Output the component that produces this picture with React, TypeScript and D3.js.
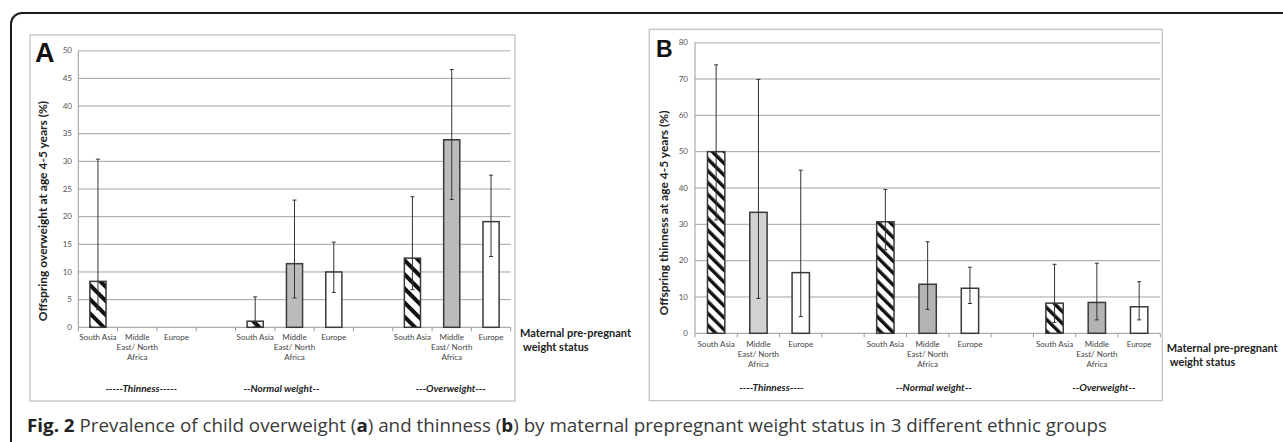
import React from "react";
import { scaleBand, scaleLinear, range } from "d3";

// data
const ethnicGroups = ["South Asia", "Middle East/ North Africa", "Europe"];
const weightGroupsA = ["-----Thinness-----", "--Normal weight--", "---Overweight---"];
const weightGroupsB = ["----Thinness----", "--Normal weight--", "--Overweight--"];

// panel A: offspring overweight (%) - thinness, normal, overweight x SA, MENA, EU
const overweightPct = [8.3, null, null, 1.1, 11.5, 10.0, 12.5, 33.9, 19.1];
const overweightLow = [3.2, null, null, 0.1, 5.3, 6.3, 6.8, 23.1, 12.8];
const overweightHigh = [30.4, null, null, 5.5, 23.0, 15.4, 23.6, 46.6, 27.5];

// panel B: offspring thinness (%)
const thinnessPct = [50.0, 33.3, 16.7, 30.7, 13.5, 12.4, 8.3, 8.5, 7.3];
const thinnessLow = [31.2, 9.6, 4.6, 23.0, 6.6, 8.2, 3.0, 3.7, 3.7];
const thinnessHigh = [73.9, 69.9, 44.9, 39.6, 25.2, 18.2, 19.0, 19.3, 14.2];

const yTicksA = range(0, 51, 5);
const yTicksB = range(0, 81, 10);

const FONT = "Lato, 'Open Sans', sans-serif";

type Panel = {
  id: string;
  letter: string;
  letterSize: number;
  letterX: number;
  letterY: number;
  frame: { x: number; y: number; w: number; h: number };
  x0: number;
  x1: number;
  yTop: number;
  yBottom: number;
  yMax: number;
  ticks: number[];
  tickX: number;
  titleX: number;
  titleY: number;
  title: string;
  values: (number | null)[];
  low: (number | null)[];
  high: (number | null)[];
  groups: string[];
  groupShift: number[];
  xLabelY: number;
  groupLabelY: number;
  maternalX: number;
  maternalY: number;
  grayFill: string[];
  hatchId: string;
};

const panels: Panel[] = [
  {
    id: "A", letter: "A", letterSize: 27, letterX: 35, letterY: 61.5,
    frame: { x: 30, y: 35, w: 485, h: 366 },
    x0: 78.3, x1: 510.7, yTop: 50.7, yBottom: 327.3, yMax: 50, ticks: yTicksA,
    tickX: 72, titleX: 46.5, titleY: 211,
    title: "Offspring overweight at age 4-5 years (%)",
    values: overweightPct, low: overweightLow, high: overweightHigh,
    groups: weightGroupsA, groupShift: [4, -13, -1],
    xLabelY: 340, groupLabelY: 392, maternalX: 520, maternalY: 337,
    grayFill: ["#bbbbbb", "#bbbbbb", "#bbbbbb"], hatchId: "hatchA",
  },
  {
    id: "B", letter: "B", letterSize: 23, letterX: 656, letterY: 56.7,
    frame: { x: 649.3, y: 29.3, w: 513, h: 371.4 },
    x0: 695, x1: 1160.3, yTop: 42.7, yBottom: 333.3, yMax: 80, ticks: yTicksB,
    tickX: 688, titleX: 667.5, titleY: 213,
    title: "Offspring thinness at age 4-5 years (%)",
    values: thinnessPct, low: thinnessLow, high: thinnessHigh,
    groups: weightGroupsB, groupShift: [13, 6, 7],
    xLabelY: 347, groupLabelY: 391, maternalX: 1166.7, maternalY: 352,
    grayFill: ["#d2d2d2", "#b3b3b3", "#b3b3b3"], hatchId: "hatchB",
  },
];

const ChartPanel = ({ p }: { p: Panel }) => {
  const slots = range(11);
  const x = scaleBand<number>().domain(slots).range([p.x0, p.x1]).padding(0);
  const y = scaleLinear().domain([0, p.yMax]).range([p.yBottom, p.yTop]);
  const bw = x.bandwidth() * 0.41;
  const slotOf = (i: number) => Math.floor(i / 3) * 4 + (i % 3);
  const fillOf = (i: number) => {
    const e = i % 3;
    if (e === 0) return `url(#${p.hatchId})`;
    if (e === 1) return p.grayFill[Math.floor(i / 3)];
    return "#ffffff";
  };
  return (
    <g>
      <rect x={p.frame.x} y={p.frame.y} width={p.frame.w} height={p.frame.h}
        fill="#fff" stroke="#c4c4c4" strokeWidth={1.3} />
      {p.ticks.map((t) => (
        <g key={t}>
          {t > 0 && (
            <line x1={p.x0} x2={p.x1} y1={y(t)} y2={y(t)}
              stroke={t === p.yMax ? "#c8c8c8" : "#a3a3a3"} strokeWidth={t === p.yMax ? 1.6 : 1} />
          )}
          <text x={p.tickX} y={y(t)} dy="0.33em" textAnchor="end" fontSize={8}
            fill="#555" fontFamily={FONT}>{t}</text>
        </g>
      ))}
      <line x1={p.x0} x2={p.x0} y1={p.yTop} y2={p.yBottom} stroke="#999" />
      <line x1={p.x0} x2={p.x1} y1={p.yBottom} y2={p.yBottom} stroke="#999" />
      {range(12).map((k) => {
        const xx = k < 11 ? (x(k) as number) : p.x1;
        return <line key={k} x1={xx} x2={xx} y1={p.yBottom} y2={p.yBottom + 4} stroke="#999" />;
      })}
      {p.values.map((v, i) => {
        if (v == null) return null;
        const cx = (x(slotOf(i)) as number) + x.bandwidth() / 2;
        return (
          <rect key={i} x={cx - bw / 2} y={y(v)} width={bw} height={y(0) - y(v)}
            fill={fillOf(i)} stroke="#3a3a3a" strokeWidth={1.5} />
        );
      })}
      {p.values.map((v, i) => {
        const lo = p.low[i];
        const hi = p.high[i];
        if (v == null || lo == null || hi == null) return null;
        const cx = (x(slotOf(i)) as number) + x.bandwidth() / 2;
        return (
          <g key={i} stroke="#333" strokeWidth={1}>
            <line x1={cx} x2={cx} y1={y(hi)} y2={y(lo)} />
            <line x1={cx - 2} x2={cx + 2} y1={y(hi)} y2={y(hi)} />
            <line x1={cx - 2} x2={cx + 2} y1={y(lo)} y2={y(lo)} />
          </g>
        );
      })}
      {p.groups.map((g, gi) =>
        ethnicGroups.map((e, ei) => {
          const cx = (x(gi * 4 + ei) as number) + x.bandwidth() / 2;
          const lines = ei === 1 ? ["Middle", "East/ North", "Africa"] : [e];
          return (
            <text key={`${gi}-${ei}`} x={cx} y={p.xLabelY} textAnchor="middle" fontSize={8}
              fill="#444" fontFamily={FONT}>
              {lines.map((l, li) => (
                <tspan key={li} x={cx} dy={li === 0 ? 0 : 10}>{l}</tspan>
              ))}
            </text>
          );
        })
      )}
      {p.groups.map((g, gi) => {
        const cx = (x(gi * 4 + 1) as number) + x.bandwidth() / 2 + p.groupShift[gi];
        return (
          <text key={g} x={cx} y={p.groupLabelY} textAnchor="middle" fontSize={10}
            fontWeight="bold" fontStyle="italic" fill="#222" fontFamily={FONT}>{g}</text>
        );
      })}
      <text x={p.maternalX} y={p.maternalY} fontSize={11} fontWeight="bold" fill="#222" fontFamily={FONT}>
        <tspan x={p.maternalX}>Maternal pre-pregnant</tspan>
        <tspan x={p.maternalX + 3} dy={14}>weight status</tspan>
      </text>
      <text transform={`translate(${p.titleX},${p.titleY}) rotate(-90)`} textAnchor="middle"
        fontSize={12} fontWeight="bold" fill="#222" fontFamily={FONT}>{p.title}</text>
      <text x={p.letterX} y={p.letterY} fontSize={p.letterSize} fontWeight="bold"
        fill="#111" fontFamily="'Liberation Sans', Arial, sans-serif">{p.letter}</text>
    </g>
  );
};

export default function App() {
  return (
    <svg width={1283} height={442} style={{ position: "absolute", left: 0, top: 0, background: "#fff" }}>
      <defs>
        <pattern id="hatchA" width={10} height={10} patternUnits="userSpaceOnUse" patternTransform="rotate(-45)">
          <rect width={10} height={10} fill="#fff" />
          <rect width={4} height={10} fill="#111" />
        </pattern>
        <pattern id="hatchB" width={8.4} height={8.4} patternUnits="userSpaceOnUse" patternTransform="rotate(-45)">
          <rect width={8.4} height={8.4} fill="#fff" />
          <rect width={3.4} height={8.4} fill="#111" />
        </pattern>
      </defs>
      <rect x={11} y={13} width={1320} height={500} rx={11} fill="#fff" stroke="#1a1a1a" strokeWidth={2} />
      {panels.map((p) => <ChartPanel key={p.id} p={p} />)}
      <text x={27} y={431.5} fontSize={18.5} fill="#3a3a3a" fontFamily="'Open Sans', sans-serif"
        textLength={1080} lengthAdjust="spacingAndGlyphs">
        <tspan fontWeight="bold" fill="#222">Fig. 2</tspan>
        <tspan> Prevalence of child overweight (</tspan>
        <tspan fontWeight="bold" fill="#222">a</tspan>
        <tspan>) and thinness (</tspan>
        <tspan fontWeight="bold" fill="#222">b</tspan>
        <tspan>) by maternal prepregnant weight status in 3 different ethnic groups</tspan>
      </text>
    </svg>
  );
}
